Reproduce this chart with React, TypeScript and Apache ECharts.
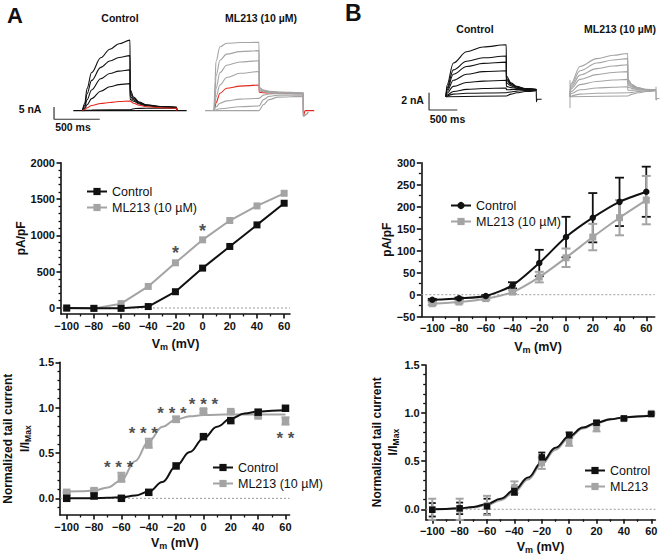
import React, { useEffect, useRef } from "react";
import * as echarts from "echarts";

const FONT = "'Liberation Sans', Arial, Helvetica, sans-serif";
const BLACK = "#111111";
const GRAY = "#a4a4a4";
const RED = "#e3261b";

// ---------- shared voltage axis ----------
const VM = [-100, -80, -60, -40, -20, 0, 20, 40, 60];
const VM_TICKS = [-100, -80, -60, -40, -20, 0, 20, 40, 60];
const VM_MINOR = [-90, -70, -50, -30, -10, 10, 30, 50];
const FIT_VM = [-100, -90, -80, -70, -60, -50, -40, -30, -20, -10, 0, 10, 20, 30, 40, 50, 60];

// ---------- Panel A : current density ----------
const A_IV_TICKS = [0, 500, 1000, 1500, 2000];
const A_IV_MINOR = [100, 200, 300, 400, 600, 700, 800, 900, 1100, 1200, 1300, 1400, 1600, 1700, 1800, 1900];
const A_IV_CONTROL = [0, -5, -5, 20, 224, 549, 847, 1144, 1442];
const A_IV_ML213 = [-5, -5, 60, 297, 622, 938, 1204, 1405, 1579];
const A_IV_STARS: [number, number, string][] = [[-20, 824, "*"], [0, 1130, "*"]];

// ---------- Panel A : normalized tail current ----------
const TAIL_TICKS = [0, 0.5, 1.0, 1.5];
const A_TAIL_MINOR = [-0.1, 0.1, 0.2, 0.3, 0.4, 0.6, 0.7, 0.8, 0.9, 1.1, 1.2, 1.3, 1.4];
const A_TAIL_CONTROL = [0, 0.026, 0, 0.066, 0.357, 0.68, 0.857, 0.95, 0.993];
const A_TAIL_ML213 = [0.066, 0.085, 0.232, 0.607, 0.871, 0.963, 0.956, 0.908, 0.853];
const A_TAIL_ML213_ERR = [0.01, 0.015, 0.05, 0.05, 0.03, 0.02, 0.01, 0.015, 0.04];
const A_FIT_CONTROL = [0, 0, 0.002, 0.005, 0.012, 0.03, 0.074, 0.18, 0.357, 0.51, 0.66, 0.79, 0.88, 0.935, 0.956, 0.965, 0.97];
const A_FIT_ML213 = [0.075, 0.078, 0.085, 0.12, 0.2, 0.41, 0.63, 0.79, 0.87, 0.905, 0.918, 0.922, 0.924, 0.925, 0.925, 0.925, 0.925];
const A_TAIL_STARS: [number, number, string][] = [
  [-62, 0.40, "* * *"], [-44, 0.77, "* * *"], [-23, 0.99, "* * *"], [0, 1.09, "* * *"], [60, 0.72, "* *"],
];

// ---------- Panel B : current density ----------
const B_IV_TICKS = [-50, 0, 50, 100, 150, 200, 250, 300];
const B_IV_MINOR = [-25, 25, 75, 125, 175, 225, 275];
const B_IV_CONTROL = [-11.4, -8.4, -3, 21.3, 72, 131, 175, 211, 234];
const B_IV_CONTROL_ERR = [2, 2, 2, 7, 30, 46, 56, 55, 57];
const B_IV_ML213 = [-20.5, -16.7, -9, 6, 40, 84, 131, 175, 215];
const B_IV_ML213_ERR = [3, 3, 3, 4, 12, 21, 30, 40, 55];

// ---------- Panel B : normalized tail current ----------
const B_TAIL_MINOR = [0.1, 0.2, 0.3, 0.4, 0.6, 0.7, 0.8, 0.9, 1.1, 1.2, 1.3, 1.4];
const B_TAIL_CONTROL = [-0.005, 0.01, 0.03, 0.19, 0.54, 0.77, 0.9, 0.945, 0.99];
const B_TAIL_CONTROL_ERR = [0.07, 0.06, 0.08, 0.04, 0.05, 0.03, 0.02, 0.01, 0.01];
const B_TAIL_ML213 = [0, 0, 0.04, 0.23, 0.48, 0.7, 0.84, 0.94, 1.0];
const B_TAIL_ML213_ERR = [0.11, 0.11, 0.1, 0.06, 0.06, 0.04, 0.03, 0.01, 0.01];
const B_FIT_CONTROL = [0, 0.004, 0.01, 0.025, 0.055, 0.11, 0.2, 0.33, 0.49, 0.64, 0.76, 0.85, 0.9, 0.935, 0.955, 0.965, 0.972];
const B_FIT_ML213 = [0, 0.003, 0.008, 0.02, 0.045, 0.095, 0.18, 0.31, 0.47, 0.62, 0.745, 0.84, 0.895, 0.935, 0.955, 0.967, 0.975];

// ---------- current traces (time ms, current nA) ----------
const A_CTRL_BASE = [[0, 0], [1240, 0]];
const A_CTRL_1 = [[100, 0], [125, 3], [150, 9], [200, 15.5], [300, 21.5], [400, 25], [500, 27.2], [620, 28.7], [622, 8.5], [660, 5.5], [720, 3.5], [800, 2.4], [950, 1.7], [1130, 1.4], [1132, 0]];
const A_CTRL_2 = [[100, 0], [125, 2.2], [150, 6.8], [200, 12.3], [300, 17.6], [400, 20.2], [500, 21.6], [620, 22.4], [622, 7.2], [660, 5.0], [720, 3.3], [800, 2.3], [950, 1.7], [1130, 1.4], [1132, 0]];
const A_CTRL_3 = [[100, 0], [125, 1.5], [150, 4.4], [200, 8.4], [300, 13.0], [400, 15.1], [500, 16.1], [620, 16.6], [622, 5.8], [660, 4.4], [720, 3.0], [800, 2.2], [950, 1.6], [1130, 1.3], [1132, 0]];
const A_CTRL_4 = [[100, 0], [125, 0.9], [150, 2.4], [200, 4.9], [300, 7.9], [400, 9.7], [500, 10.6], [620, 11.0], [622, 4.6], [660, 3.8], [720, 2.7], [800, 2.0], [950, 1.5], [1130, 1.2], [1132, 0]];
const A_CTRL_RED = [[100, 0], [125, 0.5], [150, 1.2], [200, 2.1], [300, 2.9], [400, 3.3], [500, 3.7], [620, 3.9], [660, 3.0], [720, 2.2], [800, 1.6], [950, 1.2], [1130, 1.0], [1132, 0]];
const A_CTRL_6 = [[100, 0], [200, 0.3], [620, 0.4], [680, 0.9], [800, 1.0], [1130, 1.0], [1132, 0]];

const A_ML_1 = [[100, 0], [110, 12], [120, 20], [164, 26.0], [237, 27.4], [383, 27.7], [591, 27.8], [593, 9.5], [640, 8.4], [700, 7.9], [800, 7.6], [1075, 7.3], [1077, -2.2], [1110, -1.5], [1130, -0.5]];
const A_ML_2 = [[100, 0], [110, 8], [120, 14], [164, 20.5], [237, 23], [383, 24], [591, 24.4], [593, 9.0], [640, 8.2], [700, 7.8], [800, 7.5], [1075, 7.2], [1077, -2.2]];
const A_ML_3 = [[100, 0], [110, 5], [120, 9], [164, 15.5], [237, 18.5], [383, 19.8], [591, 20.3], [593, 8.5], [640, 8.0], [700, 7.6], [800, 7.4], [1075, 7.1], [1077, -2.2]];
const A_ML_4 = [[100, 0], [110, 3], [120, 5.5], [164, 10.5], [237, 13.5], [383, 15.2], [591, 15.9], [593, 8.0], [640, 7.7], [700, 7.4], [800, 7.3], [1075, 7.0], [1077, -2.2]];
const A_ML_RED = [[100, 0], [110, 1.5], [120, 3.2], [164, 7.1], [237, 9.1], [383, 10.0], [591, 10.4], [593, 7.5], [640, 7.3], [700, 7.2], [800, 7.1], [1075, 6.9], [1077, -2.2], [1095, 0], [1195, 0]];
const A_ML_6 = [[100, 0], [120, 1.5], [164, 3.0], [237, 4.0], [383, 4.7], [591, 5.0], [640, 6.3], [700, 6.8], [800, 7.0], [1075, 6.8], [1077, -2.2]];
const A_ML_7 = [[100, 0], [164, 0.8], [383, 1.6], [591, 1.9], [640, 4.5], [700, 5.8], [800, 6.3], [1075, 6.3], [1077, -2.2]];
const A_ML_BASE = [[0, 0], [591, 0], [640, 2.5], [700, 4.5], [800, 5.5], [1075, 5.8], [1077, -2.2], [1110, -1.5], [1130, -0.5]];

const B_CTRL_1 = [[0, 0], [15, 1.3], [130, 3.9], [365, 5.2], [660, 5.75], [1065, 6.0], [1068, 2.4], [1150, 1.6], [1250, 1.2], [1400, 0.95], [1596, 0.85], [1598, -0.6], [1610, -0.3], [1690, -0.3]];
const B_CTRL_2 = [[0, 0], [15, 1.0], [130, 3.1], [365, 4.1], [660, 4.5], [1065, 4.7], [1068, 2.1], [1150, 1.5], [1250, 1.15], [1400, 0.93], [1596, 0.84]];
const B_CTRL_3 = [[0, 0], [15, 0.8], [130, 2.6], [365, 3.5], [660, 3.85], [1065, 4.0], [1068, 1.9], [1150, 1.4], [1250, 1.1], [1400, 0.92], [1596, 0.84]];
const B_CTRL_4 = [[0, 0], [15, 0.6], [130, 1.9], [365, 2.6], [660, 2.9], [1065, 3.0], [1068, 1.6], [1150, 1.25], [1250, 1.0], [1400, 0.9], [1596, 0.83]];
const B_CTRL_5 = [[0, 0], [15, 0.4], [130, 1.2], [365, 1.65], [660, 1.8], [1065, 1.9], [1068, 1.2], [1150, 1.05], [1250, 0.95], [1400, 0.87], [1596, 0.82]];
const B_CTRL_6 = [[0, 0], [15, 0.2], [130, 0.6], [365, 0.85], [660, 0.95], [1065, 1.0], [1068, 0.8], [1150, 0.82], [1250, 0.83], [1400, 0.82], [1596, 0.8]];
const B_CTRL_7 = [[0, 0], [130, 0.3], [365, 0.4], [1065, 0.46], [1150, 0.55], [1250, 0.65], [1400, 0.72], [1596, 0.76]];
const B_CTRL_8 = [[0, 0], [1065, 0.08], [1150, 0.3], [1250, 0.45], [1400, 0.6], [1596, 0.7]];

const B_ML_1 = [[0, 0], [15, 1.5], [177, 3.5], [472, 4.4], [766, 4.8], [1020, 5.0], [1023, 2.0], [1100, 1.4], [1200, 1.05], [1350, 0.85], [1520, 0.78], [1522, -0.38], [1540, -0.2], [1580, -0.2]];
const B_ML_2 = [[0, 0], [15, 1.3], [177, 3.0], [472, 3.9], [766, 4.25], [1020, 4.4], [1023, 1.8], [1100, 1.3], [1200, 1.0], [1350, 0.84], [1520, 0.78]];
const B_ML_3 = [[0, 0], [15, 1.1], [177, 2.5], [472, 3.25], [766, 3.55], [1020, 3.7], [1023, 1.6], [1100, 1.2], [1200, 0.97], [1350, 0.83], [1520, 0.77]];
const B_ML_4 = [[0, 0], [15, 0.9], [177, 2.0], [472, 2.55], [766, 2.8], [1020, 2.9], [1023, 1.35], [1100, 1.1], [1200, 0.92], [1350, 0.81], [1520, 0.76]];
const B_ML_5 = [[0, 0], [15, 0.6], [177, 1.4], [472, 1.75], [766, 1.93], [1020, 2.0], [1023, 1.1], [1100, 0.95], [1200, 0.87], [1350, 0.79], [1520, 0.75]];
const B_ML_6 = [[0, 0], [15, 0.35], [177, 0.8], [472, 1.0], [766, 1.1], [1020, 1.16], [1023, 0.75], [1100, 0.76], [1200, 0.76], [1350, 0.75], [1520, 0.74]];
const B_ML_7 = [[0, 0], [177, 0.3], [472, 0.4], [1020, 0.46], [1100, 0.5], [1200, 0.6], [1350, 0.68], [1520, 0.72]];
const B_ML_8 = [[0, 0], [1020, 0.08], [1100, 0.3], [1200, 0.45], [1350, 0.6], [1520, 0.7]];
const B_ML_ARTIFACT = [[0, -1.3], [0, 1.9]];
const B_ML_END = [[1520, 1.16], [1520, -0.38]];

// scale bars (ms, nA)
const A_SCALE = [[-211, 1.5], [-211, -3.5], [289, -3.5]];
const B_SCALE = [[-300, 0.46], [-300, -1.54], [200, -1.54]];

const minus = (v: number) => (v < 0 ? "\u2212" + Math.abs(v) : String(v));
const fix1 = (v: number) => v.toFixed(1);
const legendFmt = (n: string) => n.split("#")[0];

const xTitleStyle = {
  rich: {
    v: { fontSize: 12.5, fontWeight: "bold", fontFamily: FONT, color: BLACK, lineHeight: 16 },
    s: { fontSize: 9, fontWeight: "bold", fontFamily: FONT, color: BLACK, lineHeight: 16, padding: [6, 0, 0, 0] },
  },
};
const yTitleStyle = {
  rich: {
    t: { fontSize: 12, fontWeight: "bold", fontFamily: FONT, color: BLACK, lineHeight: 16.5 },
    s: { fontSize: 8.5, fontWeight: "bold", fontFamily: FONT, color: BLACK, lineHeight: 16.5, padding: [6, 0, 0, 0] },
  },
};
const X_TITLE = "{v|V}{s|m}{v| (mV)}";
const IV_TITLE = "{t|pA/pF}";
const TAIL_TITLE = "{t|Normalized tail current}\n{t|I/I}{s|Max}";

function axisPair(dim: "x" | "y", gridIndex: number, min: number, max: number, ticks: number[], minor: number[], fmt: (v: number) => string, name: string, nameGap: number, nameStyle: any) {
  const position = dim === "x" ? "bottom" : "left";
  const major = {
    gridIndex, type: "value", min, max, position,
    axisLine: { show: true, onZero: false, lineStyle: { color: BLACK, width: 1.6 } },
    axisTick: { show: true, inside: false, length: 4.5, customValues: ticks, lineStyle: { color: BLACK, width: 1.6 } },
    axisLabel: { show: true, customValues: ticks, formatter: fmt, margin: 6, color: BLACK, fontSize: 11, fontWeight: "bold", fontFamily: FONT },
    splitLine: { show: false },
    name, nameLocation: "middle", nameGap, nameTextStyle: nameStyle,
  };
  const minorAxis = {
    gridIndex, type: "value", min, max, position,
    axisLine: { show: false, onZero: false },
    axisTick: { show: true, inside: false, length: 2.5, customValues: minor, lineStyle: { color: BLACK, width: 1.3 } },
    axisLabel: { show: false },
    splitLine: { show: false },
  };
  return [major, minorAxis];
}

function hiddenAxis(gridIndex: number, min: number, max: number) {
  return { gridIndex, type: "value", min, max, show: false, splitLine: { show: false } };
}

function errorBars(data: number[][], xi: number, yi: number, color: string, width: number, cap: number, z: number) {
  return {
    type: "custom", xAxisIndex: xi, yAxisIndex: yi, data, silent: true, z,
    encode: { x: 0, y: 1 },
    renderItem: (_p: any, api: any) => {
      const x = api.value(0), y = api.value(1), e = api.value(2);
      const a = api.coord([x, y + e]);
      const b = api.coord([x, y - e]);
      const style = { stroke: color, lineWidth: width, fill: "none" };
      return {
        type: "group",
        children: [
          { type: "line", shape: { x1: a[0], y1: a[1], x2: b[0], y2: b[1] }, style },
          { type: "line", shape: { x1: a[0] - cap, y1: a[1], x2: a[0] + cap, y2: a[1] }, style },
          { type: "line", shape: { x1: b[0] - cap, y1: b[1], x2: b[0] + cap, y2: b[1] }, style },
        ],
      };
    },
  };
}

function zeroLine(xi: number, yi: number, xmin: number, xmax: number) {
  return {
    type: "line", xAxisIndex: xi, yAxisIndex: yi, data: [[xmin, 0], [xmax, 0]], symbol: "none", silent: true, z: 1,
    lineStyle: { color: "#9a9a9a", width: 1, type: [2, 2] },
  };
}

function starSeries(data: [number, number, string][], xi: number, yi: number, size: number) {
  return {
    type: "scatter", xAxisIndex: xi, yAxisIndex: yi, data, symbolSize: 1, silent: true, z: 10,
    itemStyle: { color: "rgba(0,0,0,0)" },
    label: { show: true, position: "inside", formatter: (p: any) => p.value[2], fontSize: size, fontWeight: "bold", color: "#222222", fontFamily: FONT, offset: [0, 5] },
  };
}

function trace(data: number[][], xi: number, yi: number, color: string, z = 2, width = 1.1) {
  return {
    type: "line", xAxisIndex: xi, yAxisIndex: yi, data, symbol: "none", smooth: 0.35, smoothMonotone: "x",
    silent: true, z, lineStyle: { color, width },
  };
}

function straight(data: number[][], xi: number, yi: number, color: string, width = 1.2) {
  return { type: "line", xAxisIndex: xi, yAxisIndex: yi, data, symbol: "none", silent: true, z: 3, lineStyle: { color, width } };
}

const pairs = (xs: number[], ys: number[]) => xs.map((x, i) => [x, ys[i]]);
const triples = (xs: number[], ys: number[], es: number[]) => xs.map((x, i) => [x, ys[i], es[i]]);

function buildOption() {
  const grid = [
    { left: 61, top: 162.7, width: 229, height: 151.3 },
    { left: 60, top: 362.3, width: 229.6, height: 152.7 },
    { left: 421.3, top: 162.7, width: 233.4, height: 154 },
    { left: 425.7, top: 365, width: 229.7, height: 154.3 },
    { left: 53.2, top: 36.9, width: 135.3, height: 83.6 },
    { left: 205, top: 36.9, width: 111.5, height: 83.6 },
    { left: 427.9, top: 40.5, width: 115.4, height: 73.5 },
    { left: 570, top: 40.5, width: 90.55, height: 73.5 },
  ];
  const xAxis: any[] = [];
  const yAxis: any[] = [];
  const plot = (g: number, xr: number[], yr: number[], yt: number[], ym: number[], yf: (v: number) => string, xGap: number, yName: string, yGap: number) => {
    const xi = xAxis.length;
    xAxis.push(...axisPair("x", g, xr[0], xr[1], VM_TICKS, VM_MINOR, minus, X_TITLE, xGap, xTitleStyle));
    const yi = yAxis.length;
    yAxis.push(...axisPair("y", g, yr[0], yr[1], yt, ym, yf, yName, yGap, yTitleStyle));
    return [xi, yi];
  };
  const hidden = (g: number, xr: number[], yr: number[]) => {
    const xi = xAxis.length; xAxis.push(hiddenAxis(g, xr[0], xr[1]));
    const yi = yAxis.length; yAxis.push(hiddenAxis(g, yr[0], yr[1]));
    return [xi, yi];
  };

  const [ax1, ay1] = plot(0, [-104.2, 64.3], [-82.6, 2000], A_IV_TICKS, A_IV_MINOR, minus, 22, IV_TITLE, 26);
  const [ax2, ay2] = plot(1, [-104.9, 63], [-0.184, 1.5], TAIL_TICKS, A_TAIL_MINOR, fix1, 20, TAIL_TITLE, 27);
  const [bx1, by1] = plot(2, [-108.2, 66.3], [-50, 300], B_IV_TICKS, B_IV_MINOR, minus, 22, IV_TITLE, 20);
  const [bx2, by2] = plot(3, [-104.8, 63], [-0.104, 1.5], TAIL_TICKS, B_TAIL_MINOR, fix1, 20, TAIL_TITLE, 23);
  const [tx1, ty1] = hidden(4, [-220, 1260], [-4, 30]);
  const [tx2, ty2] = hidden(5, [0, 1220], [-4, 30]);
  const [tx3, ty3] = hidden(6, [-320, 1720], [-2, 6.5]);
  const [tx4, ty4] = hidden(7, [0, 1600], [-2, 6.5]);

  const series: any[] = [];

  // ---- A middle ----
  series.push(zeroLine(ax1, ay1, -104.2, 64.3));
  series.push({
    name: "ML213 (10 µM)#a1", type: "line", xAxisIndex: ax1, yAxisIndex: ay1, data: pairs(VM, A_IV_ML213),
    symbol: "rect", symbolSize: 7, lineStyle: { color: GRAY, width: 2 }, itemStyle: { color: GRAY }, z: 3,
  });
  series.push({
    name: "Control#a1", type: "line", xAxisIndex: ax1, yAxisIndex: ay1, data: pairs(VM, A_IV_CONTROL),
    symbol: "rect", symbolSize: 7, lineStyle: { color: BLACK, width: 2 }, itemStyle: { color: BLACK }, z: 4,
  });
  series.push(starSeries(A_IV_STARS, ax1, ay1, 18));

  // ---- A bottom ----
  series.push(zeroLine(ax2, ay2, -104.9, 63));
  series.push({ type: "line", xAxisIndex: ax2, yAxisIndex: ay2, data: pairs(FIT_VM, A_FIT_ML213), symbol: "none", smooth: 0.4, smoothMonotone: "x", lineStyle: { color: GRAY, width: 2 }, z: 3, silent: true });
  series.push({ type: "line", xAxisIndex: ax2, yAxisIndex: ay2, data: pairs(FIT_VM, A_FIT_CONTROL), symbol: "none", smooth: 0.4, smoothMonotone: "x", lineStyle: { color: BLACK, width: 2 }, z: 4, silent: true });
  series.push(errorBars(triples(VM, A_TAIL_ML213, A_TAIL_ML213_ERR), ax2, ay2, GRAY, 2, 4, 4));
  series.push({
    name: "ML213 (10 µM)#a2", type: "line", xAxisIndex: ax2, yAxisIndex: ay2, data: pairs(VM, A_TAIL_ML213),
    symbol: "rect", symbolSize: 7.5, lineStyle: { color: GRAY, width: 2, opacity: 0 }, itemStyle: { color: GRAY }, z: 5,
  });
  series.push({
    name: "Control#a2", type: "line", xAxisIndex: ax2, yAxisIndex: ay2, data: pairs(VM, A_TAIL_CONTROL),
    symbol: "rect", symbolSize: 7.5, lineStyle: { color: BLACK, width: 2, opacity: 0 }, itemStyle: { color: BLACK }, z: 6,
  });
  series.push(starSeries(A_TAIL_STARS, ax2, ay2, 17));

  // ---- B middle ----
  series.push(zeroLine(bx1, by1, -108.2, 66.3));
  series.push(errorBars(triples(VM, B_IV_CONTROL, B_IV_CONTROL_ERR), bx1, by1, BLACK, 1.8, 4.5, 3));
  series.push(errorBars(triples(VM, B_IV_ML213, B_IV_ML213_ERR), bx1, by1, GRAY, 2, 4.5, 4));
  series.push({
    name: "ML213 (10 µM)#b1", type: "line", xAxisIndex: bx1, yAxisIndex: by1, data: pairs(VM, B_IV_ML213),
    symbol: "rect", symbolSize: 7, smooth: 0.25, lineStyle: { color: GRAY, width: 2 }, itemStyle: { color: GRAY }, z: 5,
  });
  series.push({
    name: "Control#b1", type: "line", xAxisIndex: bx1, yAxisIndex: by1, data: pairs(VM, B_IV_CONTROL),
    symbol: "circle", symbolSize: 6.5, smooth: 0.25, lineStyle: { color: BLACK, width: 2 }, itemStyle: { color: BLACK }, z: 6,
  });

  // ---- B bottom ----
  series.push(zeroLine(bx2, by2, -104.8, 63));
  series.push(errorBars(triples(VM, B_TAIL_CONTROL, B_TAIL_CONTROL_ERR), bx2, by2, BLACK, 1.8, 3.5, 3));
  series.push(errorBars(triples(VM, B_TAIL_ML213, B_TAIL_ML213_ERR), bx2, by2, GRAY, 2, 4, 4));
  series.push({ type: "line", xAxisIndex: bx2, yAxisIndex: by2, data: pairs(FIT_VM, B_FIT_ML213), symbol: "none", smooth: 0.4, smoothMonotone: "x", lineStyle: { color: GRAY, width: 2 }, z: 5, silent: true });
  series.push({ type: "line", xAxisIndex: bx2, yAxisIndex: by2, data: pairs(FIT_VM, B_FIT_CONTROL), symbol: "none", smooth: 0.4, smoothMonotone: "x", lineStyle: { color: BLACK, width: 2 }, z: 6, silent: true });
  series.push({
    name: "ML213#b2", type: "line", xAxisIndex: bx2, yAxisIndex: by2, data: pairs(VM, B_TAIL_ML213),
    symbol: "rect", symbolSize: 6.5, lineStyle: { color: GRAY, width: 2, opacity: 0 }, itemStyle: { color: GRAY }, z: 7,
  });
  series.push({
    name: "Control#b2", type: "line", xAxisIndex: bx2, yAxisIndex: by2, data: pairs(VM, B_TAIL_CONTROL),
    symbol: "rect", symbolSize: 6.5, lineStyle: { color: BLACK, width: 2, opacity: 0 }, itemStyle: { color: BLACK }, z: 8,
  });

  // ---- traces A control ----
  [A_CTRL_BASE, A_CTRL_1, A_CTRL_2, A_CTRL_3, A_CTRL_4, A_CTRL_6].forEach((d) => series.push(trace(d, tx1, ty1, BLACK)));
  series.push(trace(A_CTRL_RED, tx1, ty1, RED, 4));
  series.push(straight(A_SCALE, tx1, ty1, "#333"));
  // ---- traces A ML213 ----
  series.push(trace(A_ML_RED, tx2, ty2, RED, 2));
  [A_ML_BASE, A_ML_1, A_ML_2, A_ML_3, A_ML_4, A_ML_6, A_ML_7].forEach((d) => series.push(trace(d, tx2, ty2, GRAY, 3)));
  // ---- traces B control ----
  [B_CTRL_1, B_CTRL_2, B_CTRL_3, B_CTRL_4, B_CTRL_5, B_CTRL_6, B_CTRL_7, B_CTRL_8].forEach((d) => series.push(trace(d, tx3, ty3, BLACK)));
  series.push(straight(B_SCALE, tx3, ty3, "#333"));
  // ---- traces B ML213 ----
  [B_ML_1, B_ML_2, B_ML_3, B_ML_4, B_ML_5, B_ML_6, B_ML_7, B_ML_8].forEach((d) => series.push(trace(d, tx4, ty4, GRAY)));
  series.push(straight(B_ML_ARTIFACT, tx4, ty4, GRAY, 1));
  series.push(straight(B_ML_END, tx4, ty4, GRAY, 1));

  const legendBase = {
    orient: "vertical", itemWidth: 20, itemHeight: 9, itemGap: 3, selectedMode: false,
    formatter: legendFmt, textStyle: { fontSize: 12.5, color: BLACK, fontFamily: FONT },
  };
  const legend = [
    { ...legendBase, left: 81, top: 180, data: [{ name: "Control#a1" }, { name: "ML213 (10 µM)#a1" }] },
    {
      ...legendBase, left: 207, top: 456, data: [
        { name: "Control#a2", lineStyle: { color: BLACK, width: 2, opacity: 1 } },
        { name: "ML213 (10 µM)#a2", lineStyle: { color: GRAY, width: 2, opacity: 1 } },
      ],
    },
    { ...legendBase, left: 445, top: 194, data: [{ name: "Control#b1" }, { name: "ML213 (10 µM)#b1" }] },
    {
      ...legendBase, left: 579, top: 459, data: [
        { name: "Control#b2", lineStyle: { color: BLACK, width: 2, opacity: 1 } },
        { name: "ML213#b2", lineStyle: { color: GRAY, width: 2, opacity: 1 } },
      ],
    },
  ];

  const txt = (text: string, x: number, y: number, size: number, align = "center") => ({
    type: "text", x, y, silent: true,
    style: { text, fill: BLACK, fontSize: size, fontWeight: "bold", fontFamily: FONT, align, verticalAlign: "middle" },
  });
  const graphic = [
    txt("A", 7, 15, 22, "left"),
    txt("B", 345, 12.5, 23, "left"),
    txt("Control", 120, 18, 10.5),
    txt("ML213 (10 µM)", 261, 18, 10.5),
    txt("Control", 475, 29, 10.5),
    txt("ML213 (10 µM)", 620, 29, 10.5),
    txt("5 nA", 30, 109, 10.5),
    txt("500 ms", 73, 126.5, 10.5),
    txt("2 nA", 412.5, 99.5, 10.5),
    txt("500 ms", 447.5, 118.5, 10.5),
  ];

  return { animation: false, backgroundColor: "#ffffff", grid, xAxis, yAxis, series, legend, graphic };
}

export default function App() {
  const ref = useRef<HTMLDivElement>(null);
  useEffect(() => {
    if (!ref.current) return;
    const chart = echarts.init(ref.current, undefined, { renderer: "svg" });
    chart.setOption(buildOption() as any);
    return () => chart.dispose();
  }, []);
  return (
    <div
      ref={ref}
      style={{ position: "fixed", left: 0, top: 0, width: 666, height: 558, background: "#ffffff" }}
    />
  );
}
